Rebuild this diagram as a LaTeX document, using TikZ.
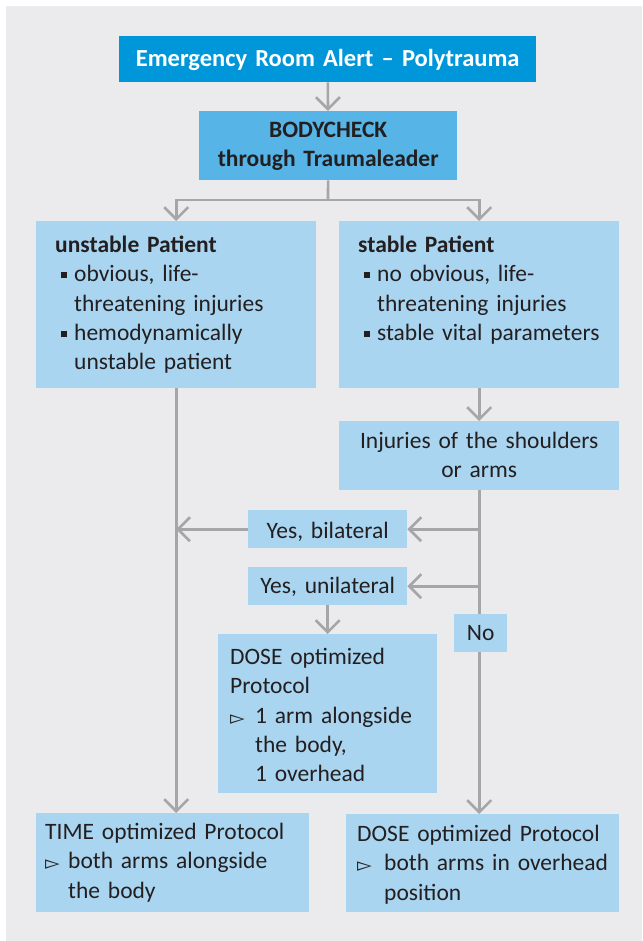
\documentclass[tikz,border=0pt]{standalone}
\usepackage{fontspec}
\setmainfont{Carlito}
\newfontfamily\dejavu{DejaVu Sans}
\usetikzlibrary{arrows.meta}
\definecolor{bggray}{HTML}{EBEBED}
\definecolor{darkb}{HTML}{0096DA}
\definecolor{midb}{HTML}{56B4E6}
\definecolor{lightb}{HTML}{A9D5F0}
\definecolor{linegray}{HTML}{A6A6A8}
\definecolor{txt}{HTML}{231F20}
\newcommand{\bodyfont}{\fontsize{23.5}{29.4}\selectfont}
\newcommand{\sqbl}{\hspace*{6pt}\rule[3.5pt]{6pt}{6pt}\hspace*{7pt}}
\newcommand{\hang}{\hspace*{19pt}}
\newcommand{\ptr}[1]{\makebox[#1][l]{\raisebox{-1pt}{\dejavu\fontsize{19}{19}\selectfont ▻}}}
\begin{document}
\begin{tikzpicture}[x=1pt,y=-1pt,
  box/.style={inner sep=0pt, anchor=north west, text=txt, font=\bodyfont, align=left, fill=lightb},
  cbox/.style={box, align=center},
  conn/.style={draw=linegray, line width=2.6pt},
  arr/.style={conn, -{Straight Barb[length=12pt,width=24pt,line width=2.6pt]}}]
\useasboundingbox (0,0) rectangle (642,941);
\fill[bggray] (6,6) rectangle (642,941);

\node[cbox, fill=darkb, text=white, font=\fontsize{24.5}{29.4}\selectfont\bfseries, text width=417pt, text height=30pt, text depth=16pt] (alert) at (119,36) {Emergency Room Alert – Polytrauma};
\node[cbox, fill=midb, font=\bodyfont\bfseries, text width=258pt, text height=26pt, text depth=43pt] (body) at (199,111) {BODYCHECK\\through Traumaleader};

\node[box, inner xsep=19pt, text width=242pt, text height=31pt, text depth=136pt] (unstable) at (36,221)
  {\textbf{unstable Patient}\\\sqbl obvious, life-\\\hang threatening injuries\\\sqbl hemodynamically\\\hang unstable patient};
\node[box, inner xsep=19pt, text width=242pt, text height=31pt, text depth=136pt] (stable) at (339,221)
  {\textbf{stable Patient}\\\sqbl no obvious, life-\\\hang threatening injuries\\\sqbl stable vital parameters};

\node[cbox, text width=280pt, text height=27pt, text depth=42pt] (injuries) at (339,421) {Injuries of the shoulders\\or arms};
\node[cbox, text width=159pt, text height=28pt, text depth=10pt] (bilateral) at (248,510) {Yes, bilateral};
\node[cbox, text width=159pt, text height=26pt, text depth=12pt] (unilateral) at (248,567) {Yes, unilateral};

\node[box, inner xsep=12pt, text width=195pt, text height=30pt, text depth=129pt] (dosemid) at (218,634)
  {DOSE optimized\\Protocol\\\ptr{25pt}1 arm alongside\\\hspace*{25pt}the body,\\\hspace*{25pt}1 overhead};
\node[box, inner xsep=9pt, text width=255pt, text height=26pt, text depth=73pt] (time) at (36,813)
  {TIME optimized Protocol\\\ptr{23pt}both arms alongside\\\hspace*{23pt}the body};
\node[box, inner xsep=11pt, text width=251pt, text height=27pt, text depth=71pt] (dosefin) at (346,814)
  {DOSE optimized Protocol\\\ptr{27pt}both arms in overhead\\\hspace*{27pt}position};

\coordinate (split) at (328,200);
\draw[arr] (alert) -- (body);
\draw[conn] (body) -- (split);
\draw[arr] (split) -| (unstable);
\draw[arr] (split) -| (stable);
\draw[arr] (unstable.south) -- (unstable.south |- time.north);
\draw[arr] (stable) -- (injuries);
\draw[arr] (injuries.south) -- (injuries.south |- dosefin.north);
\draw[arr] (injuries.south |- bilateral.east) -- (bilateral.east);
\draw[arr] (bilateral.west) -- (unstable.south |- bilateral.west);
\draw[arr] (injuries.south |- unilateral.east) -- (unilateral.east);
\draw[arr] (unilateral) -- (dosemid);

\node[cbox, text width=53pt, text height=26pt, text depth=12pt] (no) at (454,614) {No};
\end{tikzpicture}
\end{document}
